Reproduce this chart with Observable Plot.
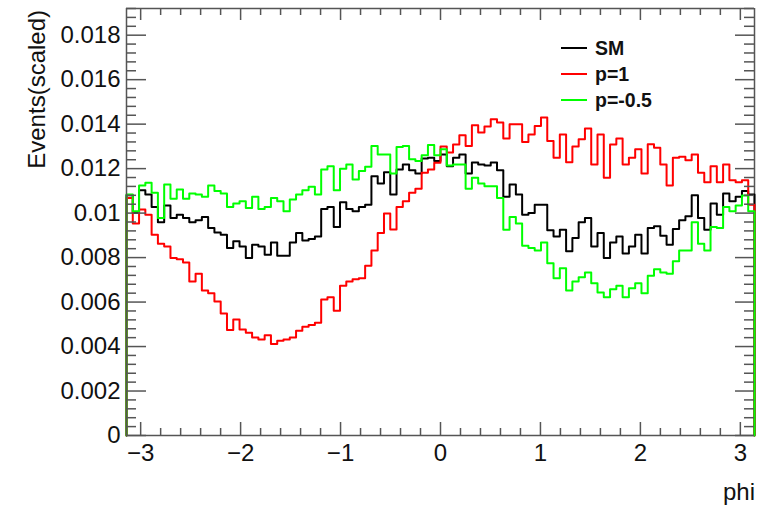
<!DOCTYPE html>
<html><head><meta charset="utf-8">
<script src="https://cdn.jsdelivr.net/npm/d3@7"></script>
<script src="https://cdn.jsdelivr.net/npm/@observablehq/plot@0.6"></script>
<style>
html,body{margin:0;padding:0;background:#fff;}
#chart svg{display:block;}
</style></head><body><div id="chart"></div>
<script>
// 100 bins in phi from -pi to pi
const xMin = -Math.PI, xMax = Math.PI;

const sm = [
0.01080,0.01000,0.01103,0.01084,0.01028,0.00959,0.01034,0.00978,0.00993,0.00978,
0.00959,0.00968,0.00983,0.00933,0.00913,0.00903,0.00843,0.00873,0.00850,0.00798,
0.00858,0.00850,0.00813,0.00868,0.00808,0.00808,0.00868,0.00910,0.00877,0.00883,
0.00895,0.01019,0.01028,0.00938,0.01049,0.01019,0.01008,0.01028,0.01038,0.01166,
0.01133,0.01184,0.01084,0.01196,0.01219,0.01193,0.01178,0.01245,0.01249,0.01234,
0.01264,0.01211,0.01249,0.01264,0.01178,0.01228,0.01219,0.01214,0.01228,0.01193,
0.01073,0.01129,0.01084,0.00993,0.01000,0.01038,0.01038,0.00923,0.00895,0.00925,
0.00828,0.00888,0.00959,0.00978,0.00850,0.00910,0.00798,0.00868,0.00895,0.00818,
0.00850,0.00903,0.00818,0.00933,0.00941,0.00898,0.00858,0.00928,0.00968,0.00986,
0.01080,0.00978,0.00925,0.01043,0.00993,0.01088,0.01053,0.01073,0.01099,0.01084];

const p1 = [
0.01068,0.00953,0.01016,0.00993,0.00903,0.00862,0.00850,0.00798,0.00793,0.00778,
0.00692,0.00727,0.00652,0.00640,0.00602,0.00549,0.00474,0.00522,0.00477,0.00462,
0.00441,0.00432,0.00451,0.00411,0.00426,0.00432,0.00441,0.00471,0.00489,0.00497,
0.00507,0.00612,0.00622,0.00561,0.00673,0.00692,0.00703,0.00707,0.00763,0.00832,
0.00910,0.00998,0.00926,0.01028,0.01053,0.01091,0.01109,0.01181,0.01196,0.01226,
0.01299,0.01272,0.01309,0.01350,0.01302,0.01395,0.01362,0.01389,0.01422,0.01407,
0.01335,0.01400,0.01400,0.01320,0.01354,0.01392,0.01430,0.01324,0.01249,0.01354,
0.01229,0.01299,0.01332,0.01380,0.01219,0.01354,0.01159,0.01309,0.01335,0.01219,
0.01249,0.01287,0.01178,0.01310,0.01294,0.01219,0.01124,0.01249,0.01253,0.01238,
0.01264,0.01181,0.01139,0.01211,0.01139,0.01219,0.01148,0.01139,0.01148,0.01038];

const pm05 = [
0.01084,0.01008,0.01124,0.01136,0.01091,0.00978,0.01129,0.01064,0.01106,0.01064,
0.01088,0.01084,0.01073,0.01124,0.01099,0.01088,0.01028,0.01043,0.01053,0.01023,
0.01073,0.01019,0.01028,0.01068,0.01053,0.01008,0.01061,0.01084,0.01103,0.01118,
0.01084,0.01196,0.01211,0.01103,0.01199,0.01219,0.01151,0.01189,0.01208,0.01302,
0.01264,0.01264,0.01178,0.01297,0.01302,0.01242,0.01234,0.01260,0.01306,0.01260,
0.01287,0.01214,0.01219,0.01219,0.01109,0.01159,0.01133,0.01121,0.01121,0.01068,
0.00925,0.00983,0.00953,0.00853,0.00843,0.00832,0.00868,0.00775,0.00707,0.00752,
0.00652,0.00692,0.00712,0.00733,0.00685,0.00643,0.00622,0.00658,0.00673,0.00622,
0.00662,0.00685,0.00640,0.00718,0.00748,0.00733,0.00727,0.00783,0.00832,0.00832,
0.00959,0.00862,0.00832,0.00938,0.00933,0.01028,0.01008,0.01034,0.01079,0.01008];

const seriesNames = ["SM", "p=1", "p=-0.5"];
const seriesColors = ["#000000", "#ff0000", "#00ff00"];
const seriesValues = [sm, p1, pm05];

const xTickLabels = [-3, -2, -1, 0, 1, 2, 3];
const yTickLabels = [0, 0.002, 0.004, 0.006, 0.008, 0.01, 0.012, 0.014, 0.016, 0.018];
const yMax = 0.0192;

// histogram outline points (step-after), starting and ending at zero
function outline(vals, name) {
  const w = (xMax - xMin) / vals.length;
  const pts = [{x: xMin, y: 0, s: name}];
  vals.forEach((v, i) => pts.push({x: xMin + i * w, y: v, s: name}));
  pts.push({x: xMax, y: 0, s: name});
  return pts;
}

const W = 784, H = 511;
const mL = 126, mR = 30, mT = 8, mB = 76;
const fw = W - mL - mR, fh = H - mT - mB;

const xMinor = d3.range(-15, 16).map(k => k / 5).filter(v => !Number.isInteger(v));
const yMinor = d3.range(0, 49).filter(k => k % 5 !== 0).map(k => k * 0.0004);
const axisColor = "#555";

const lineMarks = seriesValues.map((vals, i) =>
  Plot.line(outline(vals, seriesNames[i]), {
    x: "x", y: "y", curve: "step-after",
    stroke: seriesColors[i], strokeWidth: 2
  })
);

const chart = Plot.plot({
  width: W, height: H,
  marginLeft: mL, marginRight: mR, marginTop: mT, marginBottom: mB,
  style: {fontFamily: "'Liberation Sans', Arial, Helvetica, sans-serif", background: "#fff"},
  x: {domain: [xMin, xMax]},
  y: {domain: [0, yMax]},
  marks: [
    // right and top frame sides (under the histograms)
    Plot.ruleX([xMax], {stroke: axisColor, strokeWidth: 1.5}),
    Plot.ruleY([yMax], {stroke: axisColor, strokeWidth: 1.5}),
    ...lineMarks,
    // left and bottom axis lines (over the histograms)
    Plot.ruleX([xMin], {stroke: axisColor, strokeWidth: 1.5}),
    Plot.ruleY([0], {stroke: axisColor, strokeWidth: 1.5}),
    // bottom ticks
    Plot.tickX(xTickLabels, {x: d => d, insetTop: fh - 13, stroke: axisColor, strokeWidth: 1.5}),
    Plot.tickX(xMinor, {x: d => d, insetTop: fh - 7, stroke: axisColor, strokeWidth: 1.5}),
    // top ticks
    Plot.tickX(xTickLabels, {x: d => d, insetBottom: fh - 12, stroke: axisColor, strokeWidth: 1.5}),
    Plot.tickX(xMinor, {x: d => d, insetBottom: fh - 7, stroke: axisColor, strokeWidth: 1.5}),
    // left ticks
    Plot.tickY(yTickLabels, {y: d => d, insetRight: fw - 20, stroke: axisColor, strokeWidth: 1.5}),
    Plot.tickY(yMinor, {y: d => d, insetRight: fw - 10, stroke: axisColor, strokeWidth: 1.5}),
    // right ticks
    Plot.tickY(yTickLabels, {y: d => d, insetLeft: fw - 19, stroke: axisColor, strokeWidth: 1.5}),
    Plot.tickY(yMinor, {y: d => d, insetLeft: fw - 10, stroke: axisColor, strokeWidth: 1.5}),
    Plot.axisX({ticks: xTickLabels, tickSize: 0, tickPadding: 8, fontSize: 24, label: null,
      tickFormat: d => d < 0 ? "\u2212" + (-d) : String(d), fill: "#111"}),
    Plot.axisY({ticks: yTickLabels, tickSize: 0, tickPadding: 6, fontSize: 24, label: null,
      tickFormat: d => String(d), fill: "#111"})
  ]
});

document.getElementById("chart").appendChild(chart);

const svg = d3.select(chart);
// Axis titles
svg.append("text")
  .attr("transform", "translate(45,10) rotate(-90)")
  .attr("text-anchor", "end")
  .attr("font-size", 24)
  .attr("fill", "#111")
  .text("Events(scaled)");
svg.append("text")
  .attr("x", 755).attr("y", 500)
  .attr("text-anchor", "end")
  .attr("font-size", 24)
  .attr("fill", "#111")
  .text("phi");

// Legend
const legendY = [48, 74, 100];
seriesNames.forEach((name, i) => {
  svg.append("line")
    .attr("x1", 561).attr("x2", 587)
    .attr("y1", legendY[i]).attr("y2", legendY[i])
    .attr("stroke", seriesColors[i]).attr("stroke-width", 2);
  svg.append("text")
    .attr("x", 595).attr("y", legendY[i] + 7)
    .attr("text-anchor", "start")
    .attr("font-size", 19.5).attr("font-weight", "bold")
    .attr("fill", "#111")
    .text(name);
});
</script>
</body></html>
